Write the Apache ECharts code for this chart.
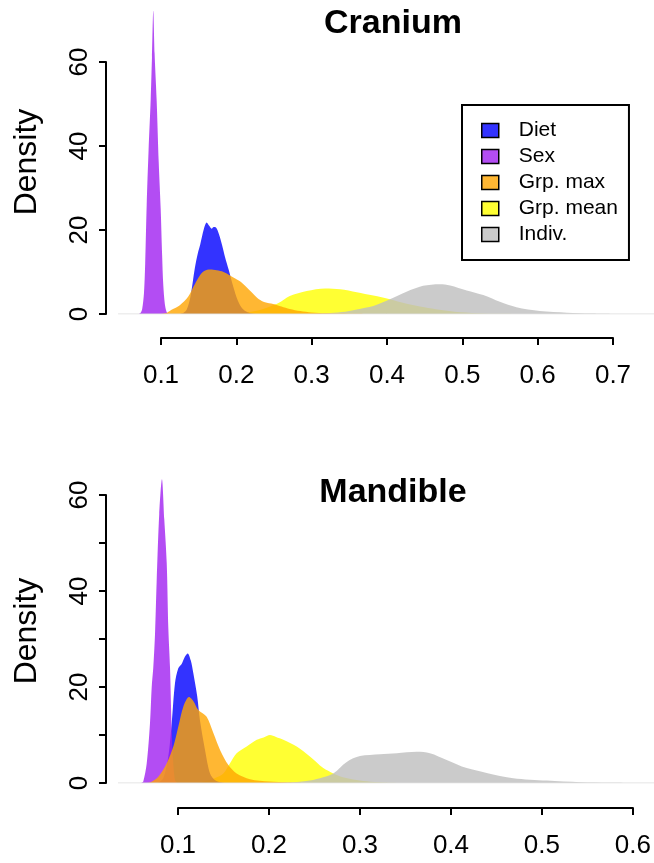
<!DOCTYPE html>
<html>
<head>
<meta charset="utf-8">
<script src="https://cdn.jsdelivr.net/npm/echarts@6/dist/echarts.min.js"></script>
<style>
  html, body { margin: 0; padding: 0; background: #fff; }
  #main { width: 654px; height: 863px; }
</style>
</head>
<body>
<div id="main"></div>
<script>
// 数据: [x, density]
var seriesNames = ['Diet', 'Sex', 'Grp. max', 'Grp. mean', 'Indiv.'];

var cranDiet = [[0.125,0],[0.130,0.3],[0.134,1],[0.139,4],[0.145,11],[0.149,14.5],[0.152,16.5],[0.157,20.3],[0.1607,21.8],[0.164,21],[0.1673,20.3],[0.170,20.7],[0.173,20.6],[0.177,19],[0.181,16.5],[0.185,13.6],[0.190,10.5],[0.196,6.5],[0.202,3.2],[0.208,1.3],[0.215,0.4],[0.225,0]];
var cranSex = [[0.0705,0],[0.073,0.3],[0.075,1.2],[0.0774,5],[0.079,12],[0.081,26],[0.0835,39],[0.0863,51],[0.088,61],[0.0898,72.2],[0.0915,62],[0.0942,51],[0.097,36],[0.0996,25],[0.1015,14],[0.103,7],[0.105,2.5],[0.107,0.7],[0.109,0.1],[0.112,0]];
var cranGrpMax = [[0.100,0],[0.108,0.3],[0.114,1],[0.125,2.1],[0.136,4.1],[0.143,6.5],[0.152,9.3],[0.158,10.3],[0.165,10.6],[0.174,10.4],[0.183,10],[0.198,8.5],[0.207,7.5],[0.214,6.3],[0.222,4.9],[0.230,3.5],[0.238,2.8],[0.249,2.4],[0.260,1.8],[0.271,1.2],[0.285,0.7],[0.300,0.35],[0.320,0.15],[0.350,0.05],[0.380,0]];
var cranGrpMean = [[0.190,0],[0.210,0.3],[0.230,0.9],[0.245,1.8],[0.256,2.6],[0.271,4.3],[0.2935,5.5],[0.318,6.1],[0.338,5.9],[0.360,5.2],[0.382,4.4],[0.404,3.5],[0.425,2.5],[0.450,1.6],[0.470,1],[0.490,0.55],[0.520,0.2],[0.550,0.05],[0.580,0]];
var cranIndiv = [[0.300,0],[0.320,0.15],[0.340,0.45],[0.360,1.1],[0.382,1.9],[0.404,3.5],[0.426,5.3],[0.448,6.7],[0.470,7.1],[0.484,6.8],[0.506,5.6],[0.528,4.5],[0.550,2.9],[0.572,1.6],[0.603,0.7],[0.639,0.3],[0.670,0.1],[0.700,0]];
var cranBase = [[0.043,0],[0.76,0]];

var mandDiet = [[0.078,0],[0.084,1],[0.0894,5.5],[0.0931,12.4],[0.0967,20.8],[0.1003,23.9],[0.104,24.8],[0.1075,26.3],[0.1106,27],[0.114,25.5],[0.1167,22.9],[0.121,18],[0.124,13],[0.1295,6.9],[0.135,2],[0.141,0.5],[0.150,0]];
var mandSex = [[0.060,0],[0.0621,0.3],[0.0658,4],[0.0694,12.4],[0.0713,20],[0.073,24],[0.0749,31],[0.0767,42],[0.0795,56],[0.0825,63.3],[0.085,55],[0.0877,45.8],[0.0895,32],[0.0913,24],[0.0931,11],[0.0949,4],[0.0967,0.6],[0.099,0]];
var mandGrpMax = [[0.065,0],[0.0694,0.1],[0.0785,1.3],[0.0877,4.1],[0.0949,7.6],[0.1003,11.7],[0.1058,15.9],[0.112,17.9],[0.117,17],[0.1222,15.2],[0.1313,13.8],[0.1386,10.4],[0.1459,6.9],[0.155,3.75],[0.164,2],[0.1786,0.8],[0.200,0.3],[0.220,0.1],[0.240,0]];
var mandGrpMean = [[0.120,0],[0.130,0.4],[0.140,1],[0.1495,2],[0.1568,4.1],[0.164,6.2],[0.175,7.6],[0.186,9],[0.1935,9.5],[0.2004,10],[0.207,9.6],[0.215,9],[0.2296,7.6],[0.244,5.5],[0.2586,3.1],[0.2695,2],[0.280,1.2],[0.295,0.6],[0.310,0.25],[0.330,0.05],[0.350,0]];
var mandIndiv = [[0.200,0],[0.220,0.1],[0.240,0.4],[0.255,1],[0.2695,2],[0.2842,4.4],[0.2987,5.6],[0.3205,6],[0.3388,6.2],[0.3606,6.5],[0.3751,6.2],[0.3933,4.8],[0.4152,3.1],[0.437,2.1],[0.466,1],[0.5025,0.5],[0.539,0.15],[0.570,0.05],[0.600,0]];
var mandBase = [[0.0345,0],[0.66,0]];

var cranXTicks = [0.1, 0.7, 0.1];   // min, max, interval
var mandXTicks = [0.1, 0.6, 0.1];

var colors = {
     'Diet': 'rgba(0,0,255,0.8)',
     'Sex': 'rgba(160,32,240,0.8)',
     'Grp. max': 'rgba(255,165,0,0.8)',
     'Grp. mean': 'rgba(255,255,0,0.8)',
     'Indiv.': 'rgba(190,190,190,0.8)'
};

var FONT = '"Liberation Sans", Arial, sans-serif';

function area(name, data, idx) {
     return {
          name: name,
          type: 'line',
          xAxisIndex: idx,
          yAxisIndex: idx,
          data: data,
          smooth: 0.3,
          showSymbol: false,
          silent: true,
          lineStyle: { width: 0 },
          itemStyle: { color: colors[name] },
          areaStyle: { color: colors[name], opacity: 1 }
     };
}

function baseLine(data, idx) {
     return {
          type: 'line',
          xAxisIndex: idx,
          yAxisIndex: idx,
          data: data,
          showSymbol: false,
          silent: true,
          lineStyle: { width: 1, color: '#dcdcdc' }
     };
}

// 坐标轴样式
function visAxis(pos, grid, min, max, interval, offset, label) {
     return {
          type: 'value',
          gridIndex: grid,
          position: pos,
          min: min,
          max: max,
          interval: interval,
          offset: offset,
          splitLine: { show: false },
          axisLine: { show: true, onZero: false, lineStyle: { color: '#000', width: 2 } },
          axisTick: { show: true, length: 7, lineStyle: { color: '#000', width: 2 } },
          axisLabel: Object.assign({
               color: '#000',
               fontSize: 26,
               fontFamily: FONT
          }, label)
     };
}

function hiddenAxis(grid, min, max) {
     return { type: 'value', gridIndex: grid, min: min, max: max, show: false, axisLine: { onZero: false } };
}

function fmt1(v) { return v.toFixed(1); }

var myChart = echarts.init(document.getElementById('main'));

// 数据网格 (右边界不超出画布) 与坐标轴网格共用同一比例尺
var option = {
     animation: false,
     backgroundColor: '#fff',
     grid: [
          // 0: Cranium data, 0.04 .. 0.754463 (753 px / unit)
          { left: 115.82, top: 3.2, width: 538, height: 310.8 },
          // 1: Cranium axes
          { left: 161, top: 62, width: 452, height: 252 },
          // 2: Mandible data, 0.03 .. 0.61952 (916 px / unit)
          { left: 113.88, top: 437.4, width: 540, height: 345.6 },
          // 3: Mandible axes
          { left: 178, top: 495, width: 458, height: 288 }
     ],
     xAxis: [
          hiddenAxis(0, 0.04, 0.04 + 538 / 753),
          visAxis('bottom', 1, cranXTicks[0], cranXTicks[1], cranXTicks[2], 24, { margin: 25, formatter: fmt1 }),
          hiddenAxis(2, 0.03, 0.03 + 540 / 916),
          visAxis('bottom', 3, mandXTicks[0], mandXTicks[1], mandXTicks[2], 25, { margin: 25, formatter: fmt1 })
     ],
     yAxis: [
          hiddenAxis(0, 0, 74),
          visAxis('left', 1, 0, 60, 20, 55, { rotate: 90, margin: 13 }),
          hiddenAxis(2, 0, 72),
          visAxis('left', 3, 0, 60, 10, 72, {
               rotate: 90, margin: 13,
               formatter: function (v) { return v % 20 === 0 ? String(v) : ''; }
          })
     ],
     legend: {
          orient: 'vertical',
          left: 462,
          top: 105,
          padding: [15, 11, 15, 19],
          itemWidth: 17,
          itemHeight: 14,
          itemGap: 5,
          borderColor: '#000',
          borderWidth: 2,
          selectedMode: false,
          textStyle: { color: '#000', fontSize: 21, lineHeight: 21, fontFamily: FONT, padding: [0, 0, 0, 15] },
          data: seriesNames.map(function (n) {
               return { name: n, icon: 'rect', itemStyle: { color: colors[n], borderColor: '#000', borderWidth: 1.5 } };
          })
     },
     graphic: [
          { type: 'text', x: 393, y: 24, style: { text: 'Cranium', font: 'bold 34px ' + FONT, fill: '#000', align: 'center', verticalAlign: 'middle' } },
          { type: 'text', x: 393, y: 493, style: { text: 'Mandible', font: 'bold 34px ' + FONT, fill: '#000', align: 'center', verticalAlign: 'middle' } },
          { type: 'text', x: 27, y: 162, rotation: Math.PI / 2, style: { text: 'Density', font: '32px ' + FONT, fill: '#000', align: 'center', verticalAlign: 'middle' } },
          { type: 'text', x: 27, y: 631, rotation: Math.PI / 2, style: { text: 'Density', font: '32px ' + FONT, fill: '#000', align: 'center', verticalAlign: 'middle' } }
     ],
     series: [
          baseLine(cranBase, 0),
          area('Grp. mean', cranGrpMean, 0),
          area('Indiv.', cranIndiv, 0),
          area('Diet', cranDiet, 0),
          area('Sex', cranSex, 0),
          area('Grp. max', cranGrpMax, 0),
          baseLine(mandBase, 2),
          area('Grp. mean', mandGrpMean, 2),
          area('Indiv.', mandIndiv, 2),
          area('Diet', mandDiet, 2),
          area('Sex', mandSex, 2),
          area('Grp. max', mandGrpMax, 2)
     ]
};

myChart.setOption(option);
</script>
</body>
</html>
